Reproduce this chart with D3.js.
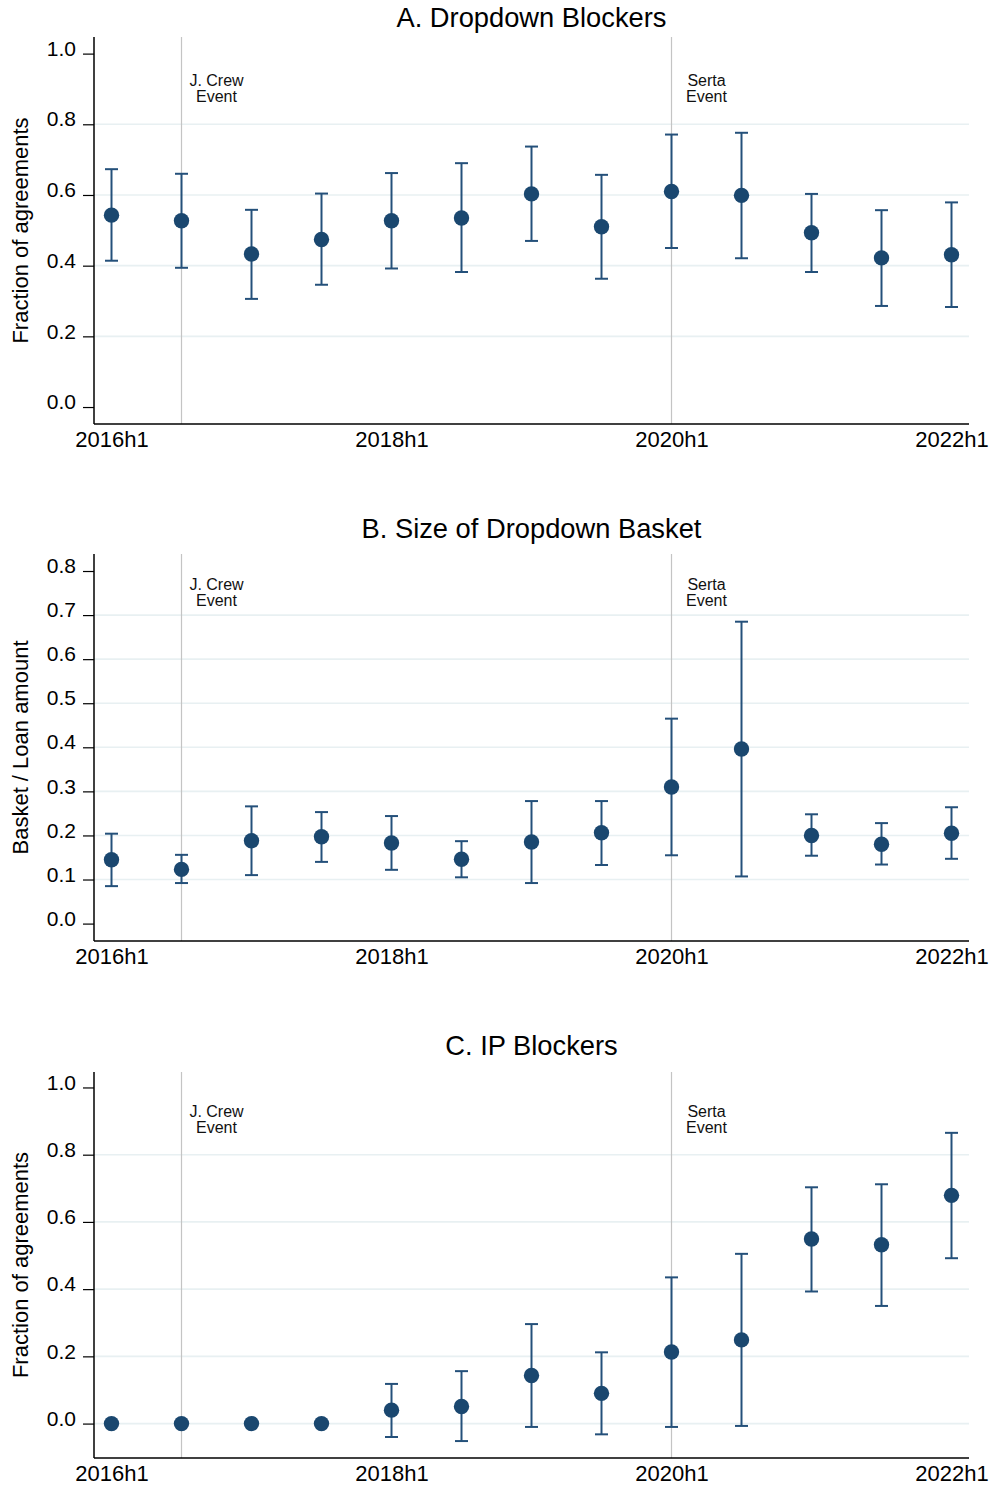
<!DOCTYPE html>
<html>
<head>
<meta charset="utf-8">
<script src="https://cdn.jsdelivr.net/npm/d3@7"></script>
<style>
  body { margin: 0; background: #fff; }
  svg { display: block; font-family: "Liberation Sans", Arial, sans-serif; }
</style>
</head>
<body>
<div id="chart"></div>
<script>
// half-year periods on the x axis
var periods = ["2016h1","2016h2","2017h1","2017h2","2018h1","2018h2","2019h1",
               "2019h2","2020h1","2020h2","2021h1","2021h2","2022h1"];
var xTickLabels = ["2016h1","2018h1","2020h1","2022h1"];

// event markers
var eventPeriods = ["2016h2","2020h1"];
var eventLabels = [["J. Crew","Event"],["Serta","Event"]];

// A. Dropdown Blockers
var dropdownEst = [0.543,0.527,0.433,0.474,0.527,0.535,0.603,0.510,0.610,0.599,0.493,0.422,0.431];
var dropdownLo  = [0.414,0.394,0.306,0.346,0.392,0.382,0.470,0.363,0.450,0.421,0.382,0.286,0.283];
var dropdownHi  = [0.673,0.660,0.558,0.604,0.662,0.690,0.737,0.657,0.771,0.776,0.603,0.557,0.579];

// B. Size of Dropdown Basket
var basketEst = [0.145,0.123,0.188,0.197,0.183,0.146,0.185,0.206,0.310,0.396,0.200,0.180,0.205];
var basketLo  = [0.085,0.092,0.110,0.140,0.122,0.105,0.092,0.133,0.155,0.107,0.154,0.134,0.147];
var basketHi  = [0.204,0.156,0.266,0.253,0.244,0.187,0.278,0.278,0.465,0.685,0.248,0.228,0.264];

// C. IP Blockers
var ipEst = [0,0,0,0,0.040,0.051,0.143,0.090,0.213,0.249,0.549,0.532,0.679];
var ipLo  = [null,null,null,null,-0.040,-0.052,-0.010,-0.032,-0.010,-0.007,0.393,0.350,0.492];
var ipHi  = [null,null,null,null,0.118,0.156,0.296,0.212,0.435,0.505,0.703,0.712,0.865];

var yTicksA = [0,0.2,0.4,0.6,0.8,1.0];
var yTicksB = [0,0.1,0.2,0.3,0.4,0.5,0.6,0.7,0.8];
var yTicksC = [0,0.2,0.4,0.6,0.8,1.0];

var width = 992, height = 1488;
var left = 94, right = 969;
var navy = "#1a476f";

var panels = [
  { title: "A. Dropdown Blockers", ylabel: "Fraction of agreements",
    est: dropdownEst, lo: dropdownLo, hi: dropdownHi,
    ticks: yTicksA, grid: [0.2,0.4,0.6,0.8], domain: [-0.048, 1.047],
    top: 37, bottom: 424, titleY: 27, eventY: 0.908 },
  { title: "B. Size of Dropdown Basket", ylabel: "Basket / Loan amount",
    est: basketEst, lo: basketLo, hi: basketHi,
    ticks: yTicksB, grid: [0.1,0.2,0.3,0.4,0.5,0.6,0.7], domain: [-0.0395, 0.8386],
    top: 554, bottom: 941, titleY: 538, eventY: 0.758 },
  { title: "C. IP Blockers", ylabel: "Fraction of agreements",
    est: ipEst, lo: ipLo, hi: ipHi,
    ticks: yTicksC, grid: [0,0.2,0.4,0.6,0.8], domain: [-0.1024, 1.046],
    top: 1072, bottom: 1458, titleY: 1055, eventY: 0.912 }
];

var svg = d3.select("#chart").append("svg")
  .attr("width", width)
  .attr("height", height);

var x = d3.scaleLinear()
  .domain([-0.25, periods.length - 1 + 0.25])
  .range([left, right]);
function xp(p) { return x(periods.indexOf(p)); }

panels.forEach(function(pn) {
  var y = d3.scaleLinear().domain(pn.domain).range([pn.bottom, pn.top]);
  var g = svg.append("g");

  // grid lines
  g.selectAll(".grid").data(pn.grid).enter().append("line")
    .attr("x1", left).attr("x2", right)
    .attr("y1", function(d) { return y(d); })
    .attr("y2", function(d) { return y(d); })
    .attr("stroke", "#e8f0f2")
    .attr("stroke-width", 1.6);

  // event lines
  g.selectAll(".ev").data(eventPeriods).enter().append("line")
    .attr("x1", function(d) { return xp(d); })
    .attr("x2", function(d) { return xp(d); })
    .attr("y1", pn.top).attr("y2", pn.bottom)
    .attr("stroke", "#c4c4c4")
    .attr("stroke-width", 1.2);

  eventPeriods.forEach(function(p, i) {
    var t = g.append("text")
      .attr("x", xp(p) + 35)
      .attr("y", y(pn.eventY))
      .attr("text-anchor", "middle")
      .style("font-size", "16px")
      .style("fill", "#111");
    eventLabels[i].forEach(function(line, j) {
      t.append("tspan").attr("x", xp(p) + 35).attr("dy", j === 0 ? 0 : 16).text(line);
    });
  });

  // y axis
  var yAxis = g.append("g")
    .attr("transform", "translate(" + left + ",0)")
    .call(d3.axisLeft(y).tickValues(pn.ticks).tickFormat(d3.format(".1f")).tickSize(11).tickPadding(7));
  yAxis.select(".domain").attr("d", "M0," + pn.top + "V" + pn.bottom)
    .attr("stroke", "#000").attr("stroke-width", 1.5);
  yAxis.selectAll(".tick line").attr("stroke", "#000").attr("stroke-width", 1.2);
  yAxis.selectAll(".tick text").style("font-size", "21px").style("fill", "#000")
    .attr("dy", "0.08em");
  yAxis.attr("font-family", null).attr("font-size", null);

  // x axis
  var xAxis = g.append("g")
    .attr("transform", "translate(0," + pn.bottom + ")")
    .call(d3.axisBottom(x)
      .tickValues(xTickLabels.map(function(d) { return periods.indexOf(d); }))
      .tickFormat(function(d) { return periods[d]; })
      .tickSize(0).tickPadding(7));
  xAxis.select(".domain").attr("d", "M" + left + ",0H" + right)
    .attr("stroke", "#000").attr("stroke-width", 1.5);
  xAxis.selectAll(".tick text").style("font-size", "22px").style("fill", "#000");
  xAxis.attr("font-family", null).attr("font-size", null);

  // title
  g.append("text")
    .attr("x", (left + right) / 2)
    .attr("y", pn.titleY)
    .attr("text-anchor", "middle")
    .style("font-size", "27.3px")
    .style("fill", "#000")
    .text(pn.title);

  // y label
  g.append("text")
    .attr("transform", "translate(28," + ((pn.top + pn.bottom) / 2) + ") rotate(-90)")
    .attr("text-anchor", "middle")
    .style("font-size", "22px")
    .style("fill", "#000")
    .text(pn.ylabel);

  var rows = periods.map(function(p, i) {
    return { i: i, est: pn.est[i], lo: pn.lo[i], hi: pn.hi[i] };
  });
  var withCI = rows.filter(function(d) { return d.lo !== null; });

  // error bars
  g.selectAll(".ci").data(withCI).enter().append("line")
    .attr("x1", function(d) { return x(d.i); })
    .attr("x2", function(d) { return x(d.i); })
    .attr("y1", function(d) { return y(d.lo); })
    .attr("y2", function(d) { return y(d.hi); })
    .attr("stroke", "#24507a").attr("stroke-width", 2);
  ["lo","hi"].forEach(function(k) {
    g.selectAll(".cap" + k).data(withCI).enter().append("line")
      .attr("x1", function(d) { return x(d.i) - 6.5; })
      .attr("x2", function(d) { return x(d.i) + 6.5; })
      .attr("y1", function(d) { return y(d[k]); })
      .attr("y2", function(d) { return y(d[k]); })
      .attr("stroke", "#24507a").attr("stroke-width", 2);
  });

  // points
  g.selectAll(".pt").data(rows).enter().append("circle")
    .attr("cx", function(d) { return x(d.i); })
    .attr("cy", function(d) { return y(d.est); })
    .attr("r", 7.7)
    .attr("fill", navy);
});
</script>
</body>
</html>
